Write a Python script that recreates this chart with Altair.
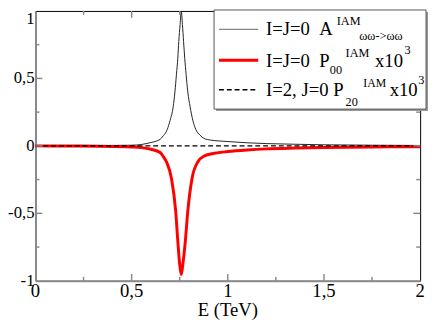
import altair as alt
import pandas as pd

# ---- data ----
E_A = [0.0, 0.2, 0.4, 0.5, 0.55, 0.6, 0.63, 0.648, 0.665, 0.685, 0.70, 0.716, 0.725, 0.733,
       0.74, 0.745, 0.752, 0.758, 0.764, 0.770, 0.776, 0.783, 0.792, 0.804, 0.818, 0.834,
       0.855, 0.877, 0.91, 0.95, 1.0, 1.1, 1.2, 1.35, 1.5, 1.75, 2.0]
A_vals = [0.0, 0.001, 0.003, 0.005, 0.01, 0.025, 0.036, 0.049, 0.075, 0.121, 0.19, 0.29, 0.40, 0.531,
          0.65, 0.773, 0.9, 1.0, 0.9, 0.773, 0.65, 0.531, 0.40, 0.29, 0.19, 0.121,
          0.08, 0.055, 0.043, 0.037, 0.032, 0.023, 0.017, 0.012, 0.008, 0.005, 0.003]

E_P00 = [0.0, 0.2, 0.4, 0.5, 0.55, 0.6, 0.648, 0.665, 0.682, 0.707, 0.729, 0.741, 0.75, 0.758,
         0.766, 0.778, 0.792, 0.814, 0.843, 0.877, 0.93, 1.0, 1.1, 1.2, 1.35, 1.5, 1.75, 2.0]
P00_vals = [0.0, -0.001, -0.004, -0.008, -0.013, -0.025, -0.049, -0.08, -0.121, -0.241, -0.483, -0.725, -0.88, -0.954,
            -0.88, -0.725, -0.483, -0.241, -0.121, -0.075, -0.055, -0.042, -0.03, -0.022, -0.016, -0.012, -0.008, -0.006]

E_P20 = [0.0, 0.5, 1.0, 1.5, 2.0]
P20_vals = [0.0, 0.0, 0.0, 0.0, 0.0]

x_tick_vals = [0, 0.5, 1, 1.5, 2]
x_tick_text = ["0", "0,5", "1", "1,5", "2"]
y_tick_vals = [-1, -0.5, 0, 0.5]
y_tick_text = ["-1", "-0,5", "0", "0,5"]
y_top_val = [1]
y_top_text = ["1"]
x_title = "E (TeV)"

x_major = [0.5, 1.0, 1.5]
x_minor = [0.25, 0.75, 1.25, 1.75]
y_major = [-0.5, 0.0, 0.5]
y_minor = [-0.75, -0.25, 0.25, 0.75]

W, H = 392, 275
OX, OY = 36, 8  # page position of plot origin
FONT = "Liberation Serif"
GREY = "#8a8a8a"

dfA = pd.DataFrame({"E": E_A, "v": A_vals})
dfP00 = pd.DataFrame({"E": E_P00, "v": P00_vals})
dfP20 = pd.DataFrame({"E": E_P20, "v": P20_vals})

xs = alt.Scale(domain=[0, 2], nice=False)
ys = alt.Scale(domain=[-1, 1], nice=False)

xaxis = alt.Axis(values=[0, 0.5, 1, 1.5, 2], ticks=False, tickSize=0, grid=False, labels=False,
                 domainColor=GREY, domainWidth=2, title=None)
yaxis = alt.Axis(values=[-1, -0.5, 0, 0.5, 1], ticks=False, tickSize=0, grid=False, labels=False,
                 domainColor=GREY, domainWidth=2, title=None)

lineA = alt.Chart(dfA).mark_line(color="#222222", strokeWidth=1, interpolate="monotone").encode(
    x=alt.X("E:Q", scale=xs, axis=xaxis), y=alt.Y("v:Q", scale=ys, axis=yaxis))
lineP00 = alt.Chart(dfP00).mark_line(color="#ff0000", strokeWidth=3, interpolate="monotone").encode(
    x=alt.X("E:Q", scale=xs), y=alt.Y("v:Q", scale=ys))
lineP20 = alt.Chart(dfP20).mark_line(color="black", strokeWidth=1.5, strokeDash=[5, 3]).encode(
    x=alt.X("E:Q", scale=xs), y=alt.Y("v:Q", scale=ys))

layers = [lineA, lineP00, lineP20]

# inward ticks on all four sides
def xticks(vals, ln):
    d = pd.DataFrame({"t": vals})
    b = alt.Chart(d).mark_rule(color=GREY, strokeWidth=1.5).encode(
        x=alt.X("t:Q", scale=xs), y=alt.value(H), y2=alt.value(H - ln))
    t = alt.Chart(d).mark_rule(color=GREY, strokeWidth=1.5).encode(
        x=alt.X("t:Q", scale=xs), y=alt.value(0), y2=alt.value(ln))
    return [b, t]

def yticks(vals, ln):
    d = pd.DataFrame({"t": vals})
    l = alt.Chart(d).mark_rule(color=GREY, strokeWidth=1.5).encode(
        y=alt.Y("t:Q", scale=ys), x=alt.value(0), x2=alt.value(ln))
    r = alt.Chart(d).mark_rule(color=GREY, strokeWidth=1.5).encode(
        y=alt.Y("t:Q", scale=ys), x=alt.value(W - ln), x2=alt.value(W))
    return [l, r]

layers += xticks(x_major, 7) + xticks(x_minor, 4) + yticks(y_major, 7) + yticks(y_minor, 4)

# tick labels and axis title as text
dfxl = pd.DataFrame({"t": x_tick_vals, "s": x_tick_text})
dfyl = pd.DataFrame({"t": y_tick_vals, "s": y_tick_text})
dfyt = pd.DataFrame({"t": y_top_val, "s": y_top_text})
layers += [
    alt.Chart(dfxl).mark_text(font=FONT, fontSize=19, color="black", align="center",
                              baseline="alphabetic", clip=False).encode(
        x=alt.X("t:Q", scale=xs), y=alt.value(299 - OY), text="s:N"),
    alt.Chart(dfyl).mark_text(font=FONT, fontSize=17, color="black", align="right",
                              baseline="middle", clip=False).encode(
        y=alt.Y("t:Q", scale=ys), x=alt.value(-1), text="s:N"),
    alt.Chart(dfyt).mark_text(font=FONT, fontSize=17, color="black", align="right",
                              baseline="top", clip=False).encode(
        y=alt.value(0), x=alt.value(-1), text="s:N"),
]

one = pd.DataFrame({"a": [0]})
layers.append(alt.Chart(one).mark_text(text=x_title, font=FONT, fontSize=19, color="black",
                                       align="center", baseline="alphabetic", clip=False).encode(
    x=alt.value(W / 2), y=alt.value(319 - OY)))

# legend box
def px(v):
    return v - OX

shadow = alt.Chart(one).mark_rect(fill="#9a9a9a", clip=False).encode(
    x=alt.value(px(220)), x2=alt.value(px(436)), y=alt.value(1), y2=alt.value(102))
box = alt.Chart(one).mark_rect(fill="white", stroke="#555555", strokeWidth=1, clip=False).encode(
    x=alt.value(px(218)), x2=alt.value(px(434)), y=alt.value(-1), y2=alt.value(100))
layers += [shadow, box]

def sample(yv, color, sw, dash=None):
    kw = dict(color=color, strokeWidth=sw, clip=False)
    if dash:
        kw["strokeDash"] = dash
    return alt.Chart(one).mark_rule(**kw).encode(
        x=alt.value(px(223)), x2=alt.value(px(263)), y=alt.value(yv))

layers += [sample(18.7, "#666666", 1), sample(50.3, "#ff0000", 3), sample(80.3, "black", 1.5, [5, 3])]

def txt(s, x, y, size):
    return alt.Chart(one).mark_text(text=s, font=FONT, fontSize=size, color="black",
                                    align="left", baseline="alphabetic", clip=False).encode(
        x=alt.value(px(x)), y=alt.value(y))

layers += [
    txt("I=J=0\u00a0\u00a0A", 271, 24, 19),
    txt("IAM", 343, 14, 12.5),
    txt("ωω->ωω", 366, 30, 12.5),
    txt("I=J=0\u00a0\u00a0P", 271, 57, 19),
    txt("00", 336, 64, 12.5),
    txt("IAM", 352, 47, 12.5),
    txt("x10", 382, 57, 19),
    txt("3", 412, 44, 12.5),
    txt("I=2, J=0 P", 271, 87, 19),
    txt("20", 352, 97, 12.5),
    txt("IAM", 370, 77, 12),
    txt("x10", 397, 87, 19),
    txt("3", 426, 74, 12.5),
]

chart = alt.layer(*layers).properties(
    width=W, height=H,
    autosize=alt.AutoSizeParams(type="none"),
    padding={"left": OX - 8, "top": OY - 8, "right": 8, "bottom": 41},
).configure_view(stroke="black", strokeWidth=1)

chart.save("out.html", embed_options={"renderer": "svg", "actions": False})
